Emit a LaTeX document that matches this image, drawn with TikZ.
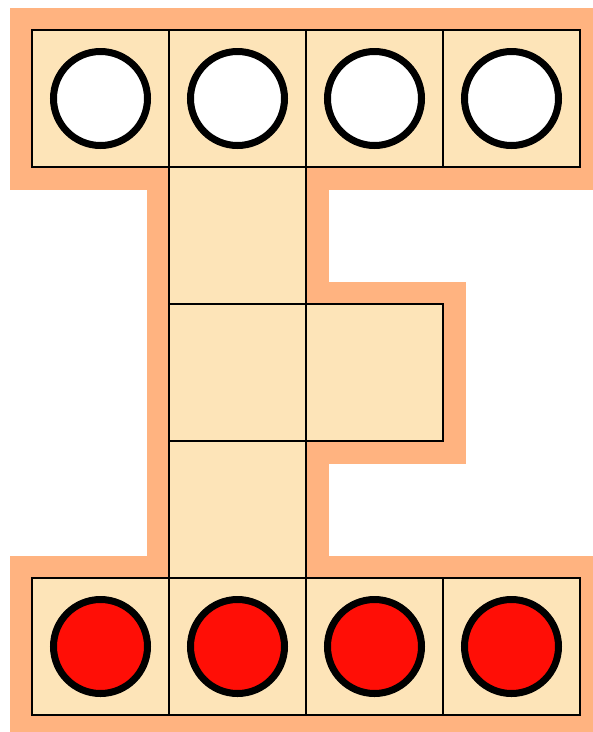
\documentclass[tikz,border=0pt]{standalone}
\definecolor{halo}{RGB}{255,179,128}
\definecolor{cellfill}{RGB}{253,228,184}
\definecolor{pegred}{RGB}{255,14,6}
\begin{document}
\begin{tikzpicture}[x=1pt,y=-1pt,
  cell/.style={draw=black,fill=cellfill,line width=1.4pt,rectangle,minimum size=137pt,inner sep=0pt},
  whitepeg/.style={draw=black,fill=white,line width=7pt,circle,minimum size=94pt,inner sep=0pt},
  redpeg/.style={draw=black,fill=pegred,line width=7pt,circle,minimum size=94pt,inner sep=0pt}]
\useasboundingbox (0,0) rectangle (593,732);
\clip (0,0) rectangle (593,732);
\fill[white] (0,0) rectangle (593,732);
\draw[halo,fill=halo,line width=45pt,line join=miter]
  (32,30) -- (580,30) -- (580,167) -- (306,167) -- (306,304) -- (443,304) -- (443,441)
  -- (306,441) -- (306,578) -- (580,578) -- (580,715) -- (32,715) -- (32,578)
  -- (169,578) -- (169,167) -- (32,167) -- cycle;
% top row
\node[cell] (t1) at (100.5,98.5) {};
\node[cell] (t2) at (237.5,98.5) {};
\node[cell] (t3) at (374.5,98.5) {};
\node[cell] (t4) at (511.5,98.5) {};
% stem
\node[cell] (s1) at (237.5,235.5) {};
\node[cell] (s2) at (237.5,372.5) {};
\node[cell] (s3) at (374.5,372.5) {};
\node[cell] (s4) at (237.5,509.5) {};
% bottom row
\node[cell] (b1) at (100.5,646.5) {};
\node[cell] (b2) at (237.5,646.5) {};
\node[cell] (b3) at (374.5,646.5) {};
\node[cell] (b4) at (511.5,646.5) {};
% pegs
\node[whitepeg] (w1) at (t1) {};
\node[whitepeg] (w2) at (t2) {};
\node[whitepeg] (w3) at (t3) {};
\node[whitepeg] (w4) at (t4) {};
\node[redpeg] (r1) at (b1) {};
\node[redpeg] (r2) at (b2) {};
\node[redpeg] (r3) at (b3) {};
\node[redpeg] (r4) at (b4) {};
\end{tikzpicture}
\end{document}
